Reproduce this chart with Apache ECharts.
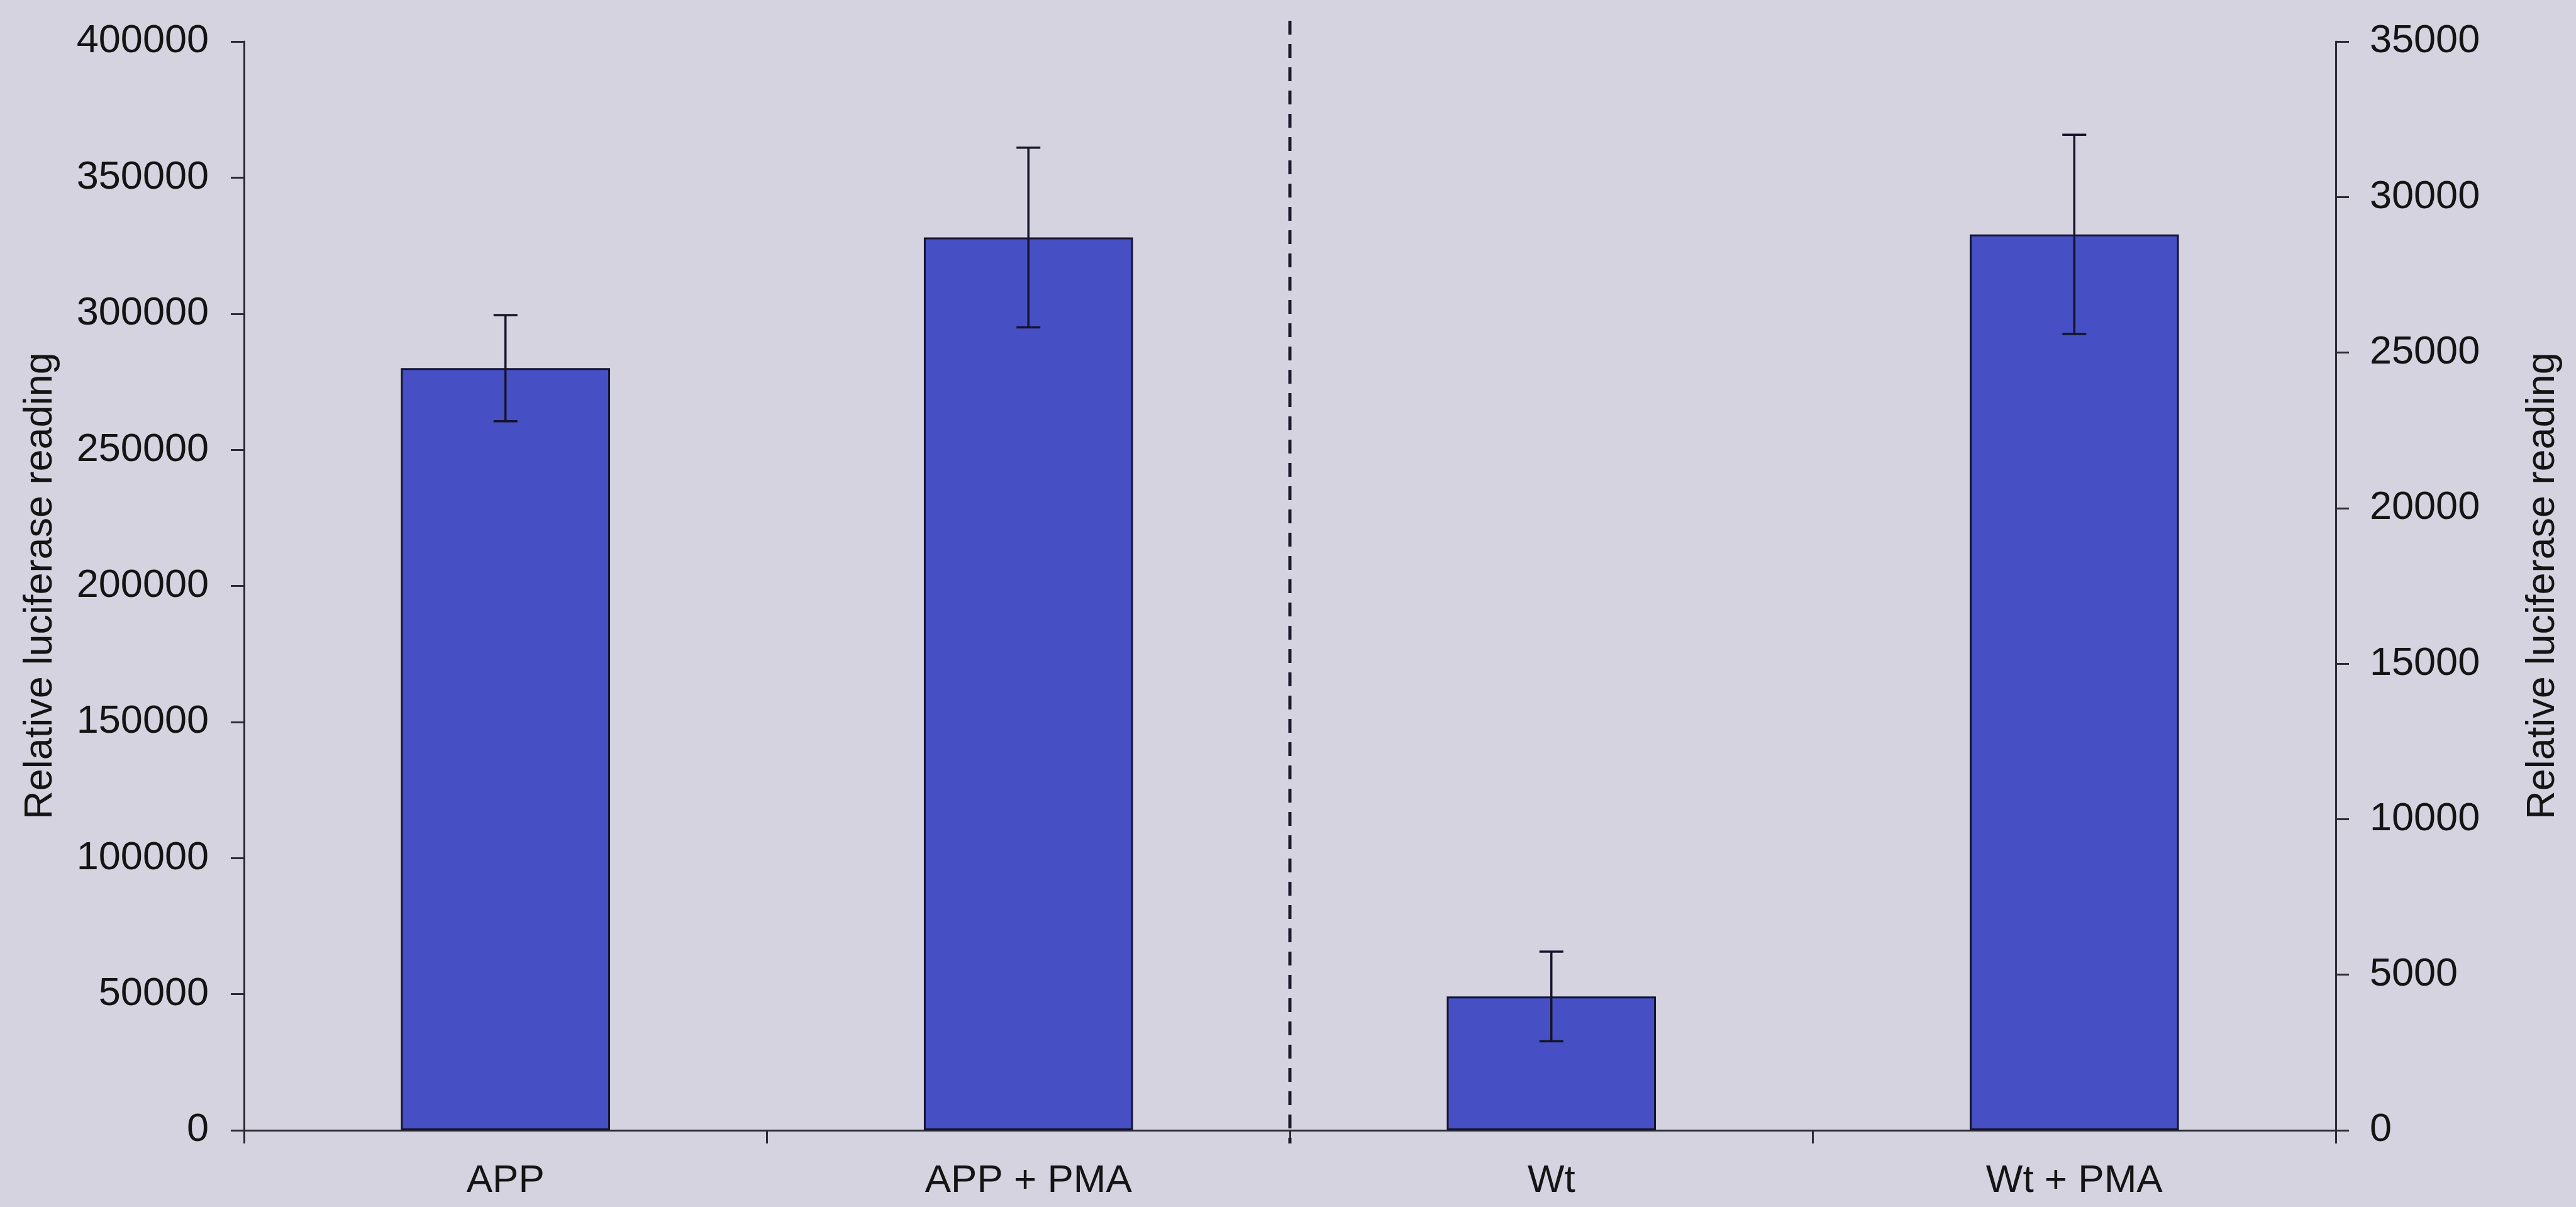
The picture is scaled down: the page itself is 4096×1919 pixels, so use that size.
<!DOCTYPE html>
<html>
<head>
<meta charset="utf-8">
<script src="https://cdn.jsdelivr.net/npm/echarts@6/dist/echarts.min.js"></script>
<style>
  html, body { margin: 0; padding: 0; background: #d5d3df; }
  #chart { width: 4096px; height: 1919px; }
</style>
</head>
<body>
<div id="chart"></div>
<script>
// Luciferase reporter readings: APP constructs on the left axis, Wt constructs on the right axis
const categories = ['APP', 'APP + PMA', 'Wt', 'Wt + PMA'];
const appValues = [280000, 328000, '-', '-'];
const appErrors = [19500, 33000, null, null];
const wtValues = ['-', '-', 4300, 28800];
const wtErrors = [null, null, 1440, 3200];
const leftTicks = { min: 0, max: 400000, interval: 50000 };
const rightTicks = { min: 0, max: 35000, interval: 5000 };
const axisTitle = 'Relative luciferase reading';

const FONT = '"Liberation Sans", Arial, sans-serif';
const TEXT = '#141414';
const LINE = '#2b2b33';
const BAR = '#4650c4';

function errorData(values, errors) {
  const out = [];
  values.forEach((v, i) => {
    if (v !== '-' && errors[i] != null) out.push([i, v - errors[i], v + errors[i]]);
  });
  return out;
}

function renderError(params, api) {
  const i = api.value(0);
  const lo = api.coord([i, api.value(1)]);
  const hi = api.coord([i, api.value(2)]);
  const half = 19;
  const style = { stroke: '#14142a', lineWidth: 3.5 };
  return {
    type: 'group',
    children: [
      { type: 'line', shape: { x1: lo[0], y1: lo[1], x2: hi[0], y2: hi[1] }, style },
      { type: 'line', shape: { x1: hi[0] - half, y1: hi[1], x2: hi[0] + half, y2: hi[1] }, style },
      { type: 'line', shape: { x1: lo[0] - half, y1: lo[1], x2: lo[0] + half, y2: lo[1] }, style }
    ]
  };
}

function valueAxis(ticks, position) {
  return {
    type: 'value',
    position: position,
    min: ticks.min,
    max: ticks.max,
    interval: ticks.interval,
    name: axisTitle,
    nameLocation: 'middle',
    nameRotate: 90,
    nameGap: position === 'left' ? 292 : 298,
    nameTextStyle: { fontFamily: FONT, fontSize: 63, color: TEXT },
    axisLine: { show: true, lineStyle: { color: LINE, width: 3 } },
    axisTick: { show: true, inside: false, length: 21, lineStyle: { color: LINE, width: 3 } },
    axisLabel: {
      fontFamily: FONT, fontSize: 63, color: TEXT, margin: position === 'left' ? 56 : 54,
      formatter: v => String(v)
    },
    splitLine: { show: false }
  };
}

const chart = echarts.init(document.getElementById('chart'), null, { renderer: 'canvas' });

chart.setOption({
  backgroundColor: '#d5d3df',
  animation: false,
  grid: { left: 388, right: 382, top: 66, bottom: 122, containLabel: false },
  xAxis: {
    type: 'category',
    data: categories,
    boundaryGap: true,
    axisLine: { show: true, lineStyle: { color: LINE, width: 3 } },
    axisTick: { show: true, inside: false, length: 21, lineStyle: { color: LINE, width: 3 } },
    axisLabel: { fontFamily: FONT, fontSize: 62, color: TEXT, margin: 50 },
    splitLine: { show: false }
  },
  yAxis: [valueAxis(leftTicks, 'left'), valueAxis(rightTicks, 'right')],
  series: [
    {
      type: 'bar',
      yAxisIndex: 0,
      data: appValues,
      barWidth: '40%',
      barGap: '-100%',
      itemStyle: { color: BAR, borderColor: '#141432', borderWidth: 3 }
    },
    {
      type: 'bar',
      yAxisIndex: 1,
      data: wtValues,
      barWidth: '40%',
      barGap: '-100%',
      itemStyle: { color: BAR, borderColor: '#141432', borderWidth: 3 }
    },
    {
      type: 'custom',
      yAxisIndex: 0,
      renderItem: renderError,
      data: errorData(appValues, appErrors),
      z: 5
    },
    {
      type: 'custom',
      yAxisIndex: 1,
      renderItem: renderError,
      data: errorData(wtValues, wtErrors),
      z: 5
    }
  ]
});

// Dashed divider between the APP group and the Wt group, at the category boundary
function drawDivider() {
  const c1 = chart.convertToPixel({ xAxisIndex: 0 }, categories[1]);
  const c2 = chart.convertToPixel({ xAxisIndex: 0 }, categories[2]);
  const x = (c1 + c2) / 2;
  const yBottom = chart.convertToPixel({ yAxisIndex: 0 }, 0) + 21;
  chart.setOption({
    graphic: [{
      type: 'line',
      shape: { x1: x, y1: 33, x2: x, y2: yBottom },
      style: { stroke: '#1a1a2e', lineWidth: 5, lineDash: [22, 15] },
      z: 10
    }]
  });
}
drawDivider();
</script>
</body>
</html>
